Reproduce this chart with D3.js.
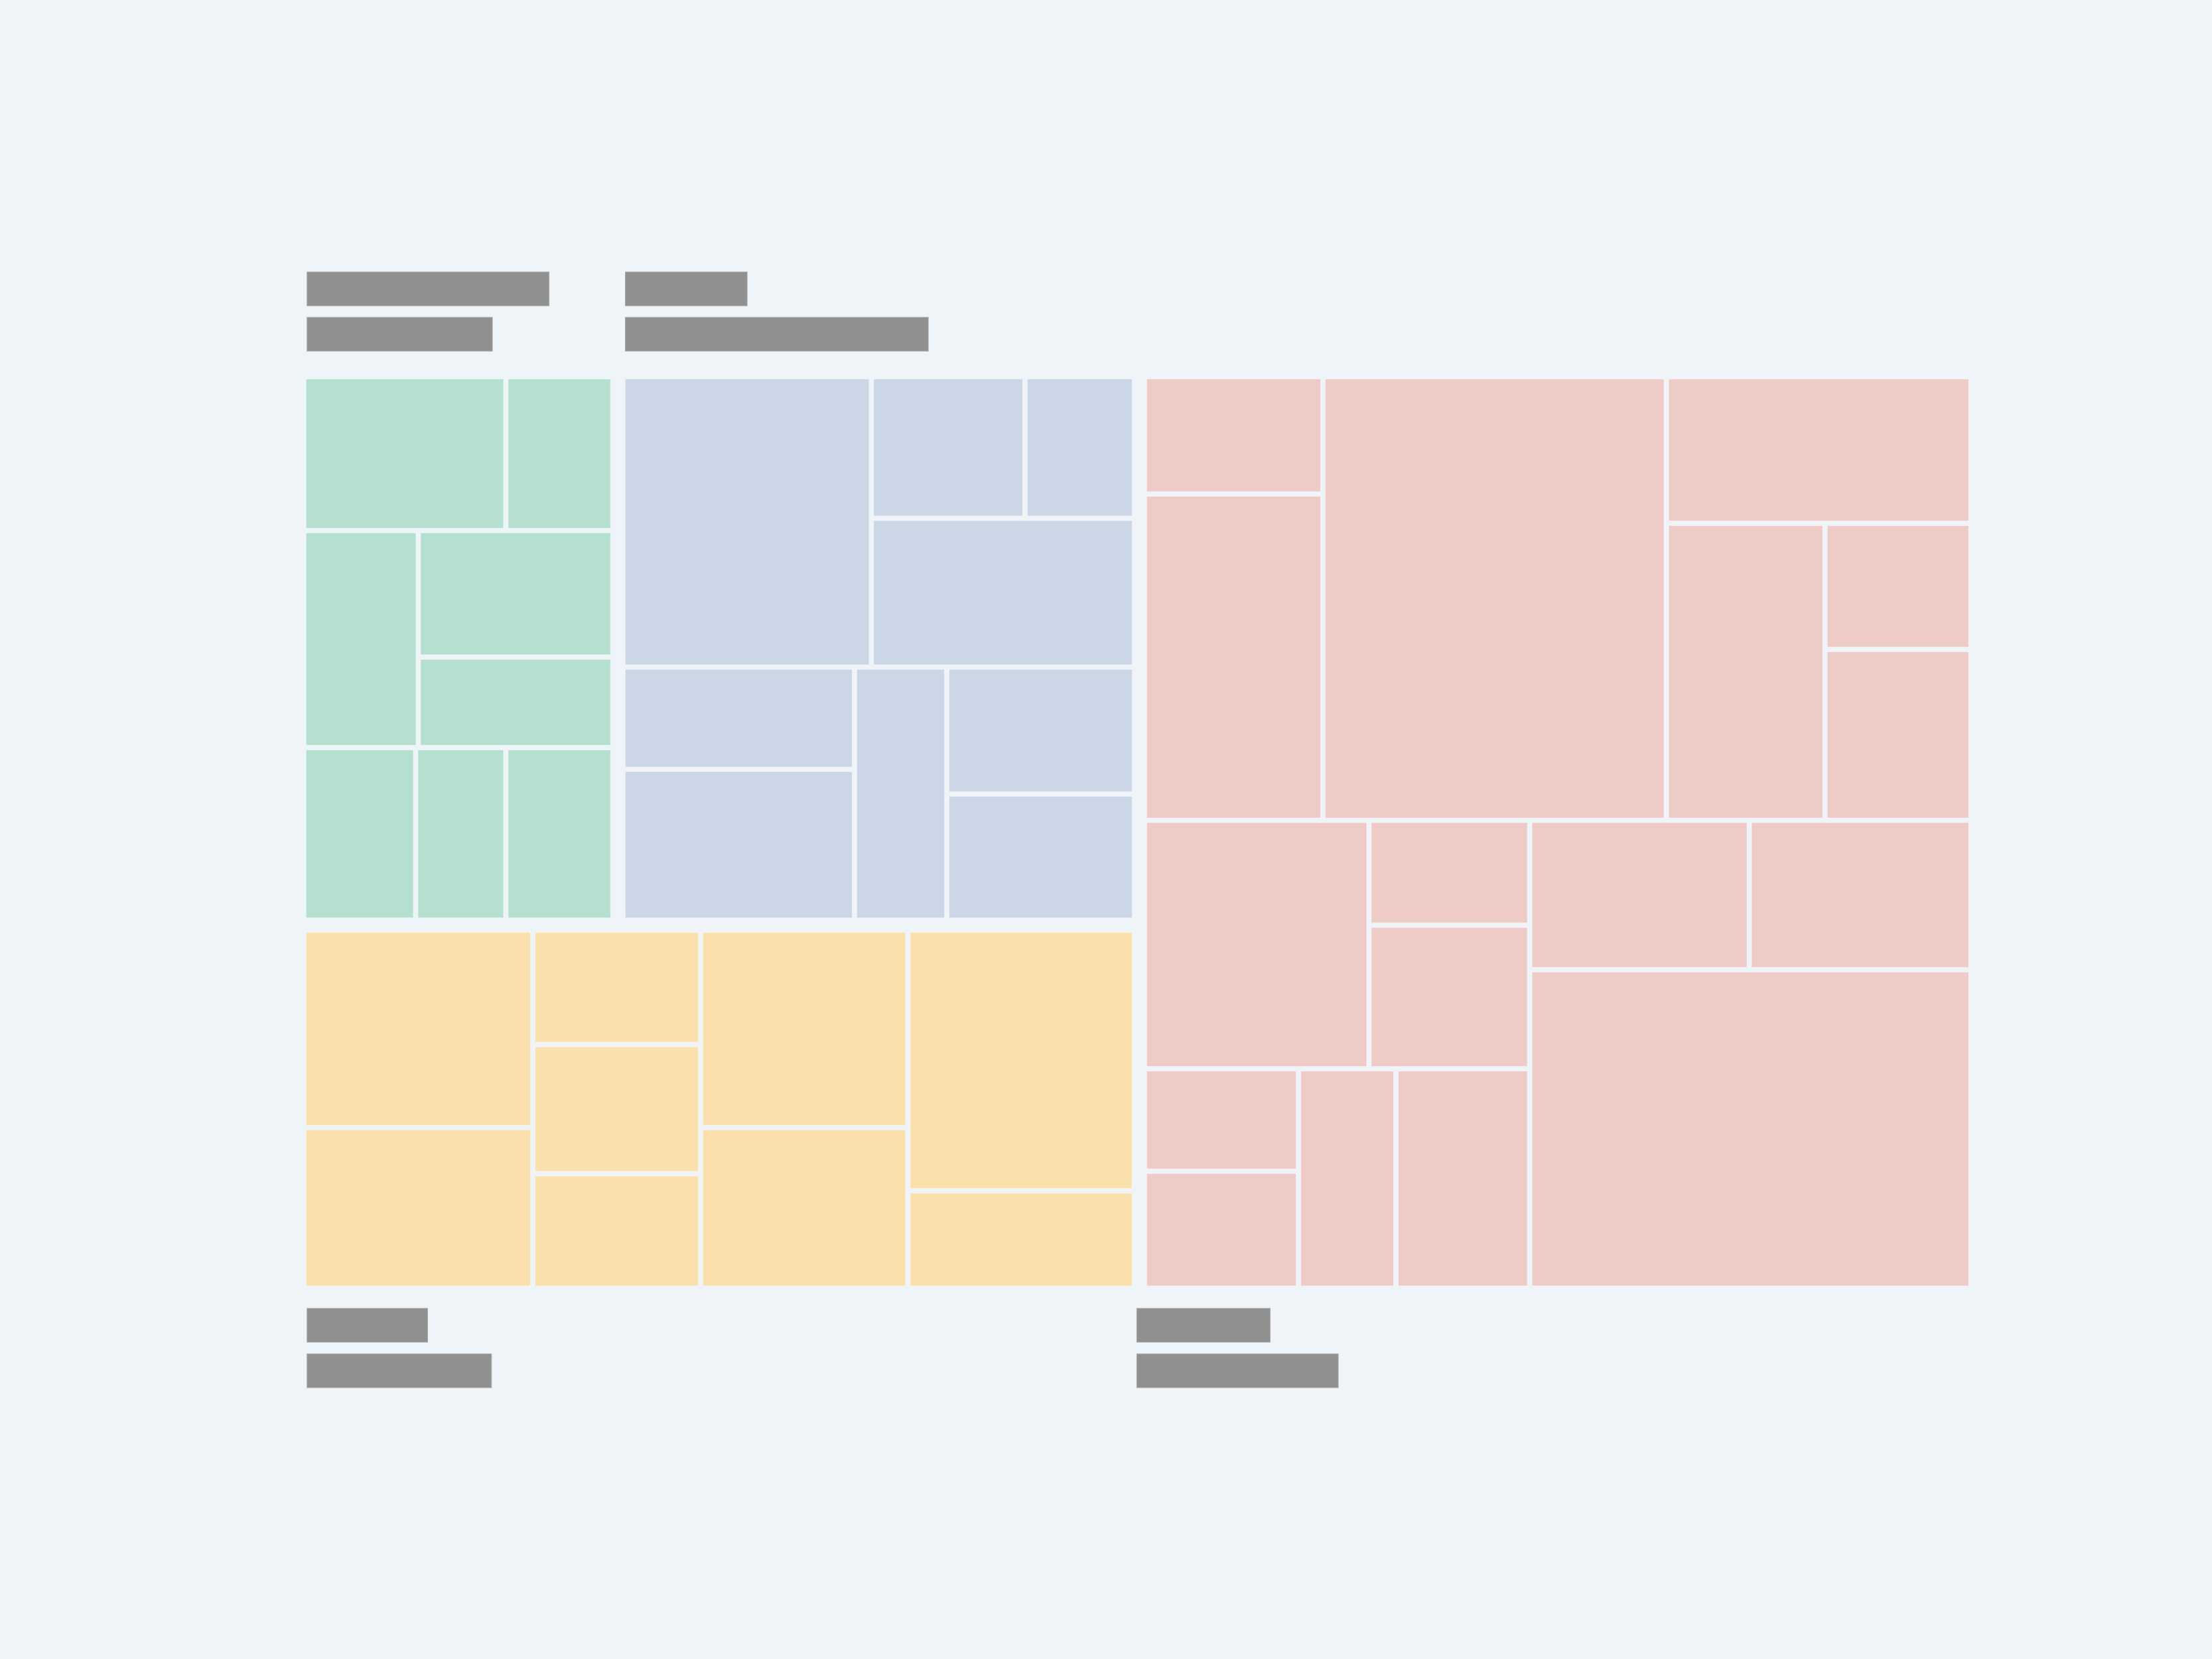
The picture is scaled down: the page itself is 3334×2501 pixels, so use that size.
<!DOCTYPE html>
<html>
<head>
<meta charset="utf-8">
<script src="https://cdn.jsdelivr.net/npm/d3@7"></script>
<style>
  html, body { margin: 0; padding: 0; background: #eff4f8; }
  svg { display: block; }
</style>
</head>
<body>
<svg id="chart" width="3334" height="2501"></svg>
<script>
// ---- data (nested arrays express the grouping of leaf values) ----
const groupKeys = ["green", "blue", "yellow", "red"];
const greenValues  = [[14.86, 7.87], [[11.88, [11.77, 8.42]], [9.23, [7.44, 8.83]]]];
const blueValues   = [[34.05, [[10.27, 7.32], 18.47]], [[11.18, 16.49], [11.03, [11.24, 11.18]]]];
const yellowValues = [[[21.37, 17.40], [9.08, [10.25, 9.09]]], [[19.34, 15.75], [27.92, 10.44]]];
const redValues    = [[[9.74, 27.09], [70.87, [20.77, [21.91, [8.57, 11.60]]]]],
                      [[[25.95, [7.84, 10.73]], [[7.34, 8.38], [9.95, 13.65]]], [[15.26, 15.41], 65.36]]];

// ---- styling / layout ----
const colors = { green: "#b5e0cf", blue: "#cbd6e7", yellow: "#f9e0ad", red: "#efcbc7" };
const labelStyle = {
  green:  { side: "top",    dx: 1.5,  widths: [364.8, 279.3] },
  blue:   { side: "top",    dx: 0.2,  widths: [183.6, 456.6] },
  yellow: { side: "bottom", dx: 1.5,  widths: [181.7, 278.0] },
  red:    { side: "bottom", dx: -15,  widths: [201.0, 303.7] }
};
const origin = { x: 461.3, y: 571.3 };
const W = 2505.9, H = 1367.2;

function toNode(v) {
  return Array.isArray(v) ? { children: v.map(toNode) } : { value: v };
}
function groupNode(key, values) {
  return { group: key, children: toNode(values).children };
}
const gNodes = {
  green: groupNode("green", greenValues),
  blue: groupNode("blue", blueValues),
  yellow: groupNode("yellow", yellowValues),
  red: groupNode("red", redValues)
};
const rootData = { children: [ { children: [ { children: [gNodes.green, gNodes.blue] }, gNodes.yellow ] }, gNodes.red ] };

const root = d3.hierarchy(rootData).sum(d => d.value || 0);

function groupOf(n) {
  const a = n.ancestors().find(x => x.data.group);
  return a ? a.data.group : null;
}

d3.treemap()
  .size([W, H])
  .tile(d3.treemapBinary)
  .paddingInner(n => groupOf(n) ? 7 : 22)
  .round(false)(root);

const svg = d3.select("#chart");
svg.append("rect").attr("width", 3334).attr("height", 2501).attr("fill", "#eff4f8");

const g = svg.append("g").attr("transform", `translate(${origin.x},${origin.y})`);

g.selectAll("rect.cell")
  .data(root.leaves())
  .join("rect")
  .attr("class", "cell")
  .attr("x", d => d.x0)
  .attr("y", d => d.y0)
  .attr("width", d => d.x1 - d.x0)
  .attr("height", d => d.y1 - d.y0)
  .attr("fill", d => colors[groupOf(d)])
  .attr("stroke", "#ffffff")
  .attr("stroke-opacity", 0.45)
  .attr("stroke-width", 1);

// group labels (rendered as redacted grey bars, as in the reference)
const groupsLaid = root.descendants().filter(d => d.data.group);
const barH = 51;
groupsLaid.forEach(node => {
  const s = labelStyle[node.data.group];
  const ys = s.side === "top" ? [node.y0 - 161.3, node.y0 - 93] : [node.y1 + 33.8, node.y1 + 102.5];
  s.widths.forEach((w, i) => {
    g.append("rect")
      .attr("x", node.x0 + s.dx)
      .attr("y", ys[i])
      .attr("width", w)
      .attr("height", barH)
      .attr("fill", "#909090")
      .attr("stroke", "#a8a8a8")
      .attr("stroke-width", 1);
  });
});
</script>
</body>
</html>
